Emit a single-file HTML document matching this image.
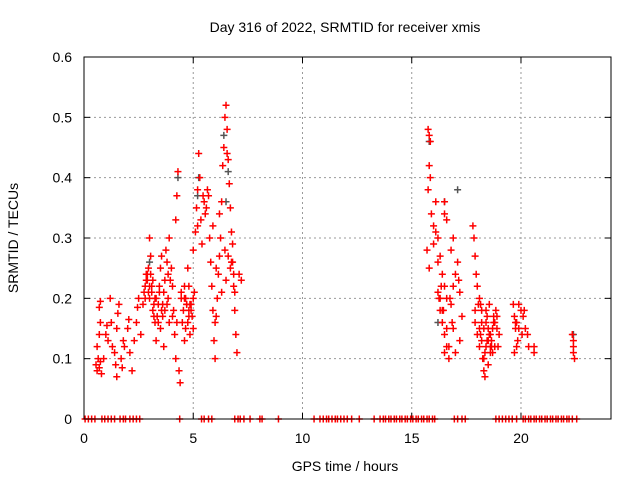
<!DOCTYPE html>
<html><head><meta charset="utf-8"><style>
body{margin:0;background:#fff;width:640px;height:480px;overflow:hidden}
text{font-family:"Liberation Sans",sans-serif;font-size:14px;fill:#000}
</style></head><body>
<svg id="chart" width="640" height="480" viewBox="0 0 640 480">
<text x="345" y="32" text-anchor="middle">Day 316 of 2022, SRMTID for receiver xmis</text>
<text x="345" y="471" text-anchor="middle">GPS time / hours</text>
<text transform="translate(18,238) rotate(-90)" text-anchor="middle">SRMTID / TECUs</text>
<g id="grid"></g>
<g id="ticks"></g>
<g id="greypts"></g>
<g id="redpts"></g>
<rect x="84" y="57" width="527" height="362" fill="none" stroke="#000" stroke-width="1"/>
</svg>
<script>
const xTicks=[0,5,10,15,20];
const yTicks=[0,0.1,0.2,0.3,0.4,0.5,0.6];
const yTickLabels=["0","0.1","0.2","0.3","0.4","0.5","0.6"];
const redHours=[0.55,0.6,0.65,0.7,0.75,0.6,0.7,0.75,0.7,0.75,0.8,0.9,1.0,1.05,1.1,1.2,1.25,1.3,1.4,1.45,1.5,1.5,1.55,1.6,1.7,1.75,1.8,1.85,2.0,2.05,2.1,2.2,2.3,2.4,2.45,2.5,2.6,2.7,2.75,2.8,2.85,2.9,2.95,3.0,3.0,3.05,3.1,3.15,3.2,3.25,3.3,3.3,3.4,3.45,3.5,3.5,3.55,3.6,3.65,3.7,3.75,3.8,3.85,3.9,3.9,4.0,4.05,4.1,4.15,4.2,4.2,4.25,4.3,4.35,4.4,4.45,4.5,4.6,4.6,4.7,4.75,4.8,4.85,4.9,5.0,5.0,5.05,5.1,5.15,5.2,5.25,5.3,5.35,5.4,5.5,5.6,5.7,5.75,5.8,5.85,5.9,5.95,6.0,6.0,6.1,6.15,6.2,6.25,6.3,6.35,6.4,6.45,6.5,6.55,6.6,6.65,6.7,6.75,6.8,6.85,6.9,6.95,7.0,6.5,6.6,6.7,6.8,7.1,7.2,6.9,2.9,3.0,3.1,3.6,3.7,4.6,4.7,4.8,4.9,5.0,
15.75,15.8,15.85,15.8,15.85,15.75,15.9,16.0,16.1,16.2,15.7,15.8,16.0,16.3,16.4,16.5,16.6,16.2,16.3,16.4,16.5,16.6,16.7,16.8,16.9,17.0,16.8,16.9,16.5,16.5,16.6,17.1,17.2,17.3,17.2,17.0,16.9,16.4,16.3,16.5,
17.8,17.85,17.9,17.95,18.0,18.05,18.1,18.15,18.2,18.25,18.3,18.35,18.4,18.45,18.5,18.55,18.6,18.65,18.7,18.75,18.8,18.85,18.9,18.95,19.0,18.2,18.4,18.6,18.3,18.5,17.9,18.1,
19.65,19.7,19.75,19.8,19.85,19.9,20.0,20.1,20.2,20.3,20.35,19.7,19.8,20.6,20.6,22.35,22.4,22.4,22.45,22.4,
2.8,2.85,2.95,3.05,3.2,3.35,3.45,3.55,3.65,3.8,3.95,4.05,4.25,4.45,4.55,4.65,4.75,4.85,4.95,4.65,4.8,3.25,3.4,3.15,3.85,5.55,5.65,5.9,6.05,6.3,6.45,6.55,6.75,6.85,6.2,6.05,5.45,5.2,
16.1,16.25,16.35,16.45,16.7,16.75,16.85,17.15,16.2,16.6,17.9,18.0,18.1,18.2,18.3,18.4,18.5,18.6,18.7,18.8,18.9,18.15,18.35,18.55,18.75,18.45,18.65,19.75,19.9,20.05,20.15];
const redValues=[0.09,0.08,0.1,0.085,0.095,0.12,0.14,0.16,0.185,0.195,0.075,0.1,0.14,0.155,0.13,0.2,0.16,0.12,0.11,0.09,0.07,0.15,0.175,0.19,0.1,0.085,0.13,0.12,0.15,0.165,0.11,0.08,0.13,0.16,0.185,0.2,0.14,0.19,0.21,0.22,0.24,0.23,0.25,0.2,0.3,0.27,0.22,0.18,0.17,0.16,0.13,0.2,0.19,0.21,0.15,0.25,0.27,0.17,0.12,0.23,0.28,0.26,0.2,0.16,0.3,0.25,0.22,0.18,0.14,0.1,0.33,0.37,0.41,0.08,0.06,0.2,0.16,0.13,0.22,0.19,0.25,0.17,0.14,0.18,0.15,0.28,0.21,0.31,0.35,0.38,0.44,0.4,0.33,0.29,0.36,0.35,0.37,0.3,0.26,0.22,0.18,0.13,0.1,0.16,0.2,0.24,0.27,0.3,0.36,0.42,0.45,0.5,0.52,0.48,0.43,0.39,0.35,0.31,0.26,0.22,0.18,0.14,0.11,0.23,0.27,0.25,0.29,0.24,0.23,0.21,0.24,0.22,0.21,0.19,0.18,0.2,0.19,0.18,0.19,0.2,
0.48,0.47,0.46,0.42,0.4,0.38,0.34,0.32,0.31,0.3,0.28,0.25,0.29,0.27,0.24,0.22,0.2,0.21,0.18,0.16,0.14,0.12,0.1,0.19,0.22,0.24,0.28,0.3,0.34,0.36,0.33,0.26,0.21,0.17,0.13,0.11,0.15,0.18,0.2,0.11,
0.32,0.3,0.27,0.24,0.22,0.19,0.15,0.14,0.13,0.1,0.08,0.07,0.12,0.17,0.15,0.19,0.14,0.13,0.11,0.17,0.16,0.18,0.15,0.12,0.14,0.18,0.16,0.12,0.1,0.09,0.16,0.2,
0.19,0.17,0.15,0.12,0.13,0.19,0.18,0.17,0.15,0.14,0.12,0.11,0.16,0.12,0.11,0.14,0.13,0.11,0.1,0.12,
0.2,0.23,0.21,0.24,0.19,0.17,0.22,0.18,0.21,0.19,0.23,0.17,0.16,0.21,0.18,0.2,0.16,0.19,0.17,0.15,0.22,0.2,0.16,0.23,0.24,0.34,0.38,0.32,0.17,0.21,0.28,0.44,0.26,0.24,0.34,0.25,0.37,0.32,
0.36,0.2,0.22,0.18,0.12,0.2,0.16,0.23,0.26,0.15,0.18,0.14,0.12,0.16,0.15,0.18,0.13,0.11,0.15,0.12,0.17,0.19,0.11,0.14,0.16,0.13,0.12,0.16,0.15,0.14,0.18];
const zeroHours=[0.05,0.2,0.35,0.5,0.82,0.95,1.1,1.25,1.4,1.65,1.8,1.9,2.1,2.25,2.4,2.55,4.38,5.38,5.5,5.7,5.85,6.9,7.05,7.15,7.32,7.6,8.05,8.15,8.9,10.53,10.8,10.95,11.1,11.2,11.35,11.5,11.6,11.75,11.9,12.05,12.25,12.6,13.28,13.55,13.7,13.8,13.95,14.05,14.2,14.3,14.45,14.55,14.7,14.8,14.95,15.05,15.2,15.3,15.45,15.55,15.7,15.8,15.95,16.05,16.95,17.1,17.3,17.45,18.85,19.0,19.15,19.3,19.45,19.6,19.8,20.1,20.2,20.35,20.45,20.6,20.7,20.85,20.95,21.1,21.2,21.35,21.45,21.6,21.7,21.85,21.95,22.1,22.2,22.35,22.55];
const greyHours=[5.2,5.25,6.4,6.5,6.6,15.8,16.5,17.1,22.4,3.0,4.3,16.2];
const greyValues=[0.37,0.4,0.47,0.36,0.41,0.46,0.36,0.38,0.14,0.26,0.4,0.16];

const X0=84,X1=611,Y0=419,Y1=57,XMAX=24.12,YMAX=0.6;
function sx(h){return X0+(h/XMAX)*(X1-X0);}
function sy(v){return Y0-(v/YMAX)*(Y0-Y1);}
const NS="http://www.w3.org/2000/svg";
function mk(tag,attrs,parent){const e=document.createElementNS(NS,tag);for(const k in attrs)e.setAttribute(k,attrs[k]);parent.appendChild(e);return e;}
const grid=document.getElementById('grid'),ticks=document.getElementById('ticks');
xTicks.forEach(t=>{const x=sx(t);
 if(t>0){const g=mk('line',{x1:x,x2:x,y1:Y1,y2:Y0,stroke:'#999','stroke-dasharray':'2,3'},grid);
 
 }
 mk('line',{x1:x,x2:x,y1:Y0,y2:Y0-6,stroke:'#000'},ticks);
 mk('line',{x1:x,x2:x,y1:Y1,y2:Y1+6,stroke:'#000'},ticks);
 const l=mk('text',{x:x,y:443,'text-anchor':'middle'},ticks);l.textContent=t;
 
 });
yTicks.forEach((t,i)=>{const y=sy(t);
 if(t>0&&t<0.6){const g=mk('line',{x1:X0,x2:X1,y1:y,y2:y,stroke:'#999','stroke-dasharray':'2,3'},grid);
 
 }
 mk('line',{x1:X0,x2:X0+6,y1:y,y2:y,stroke:'#000'},ticks);
 mk('line',{x1:X1,x2:X1-6,y1:y,y2:y,stroke:'#000'},ticks);
 const l=mk('text',{x:72,y:y+5,'text-anchor':'end'},ticks);l.textContent=yTickLabels[i];
 
 });
function plus(h,v,col,parent,name){const x=sx(h),y=sy(v);
 const p=mk('path',{d:`M${x-3.5} ${y}H${x+3.5}M${x} ${y-3.5}V${y+3.5}`,stroke:col,'stroke-width':1.5,fill:'none'},parent);
 
 }
const rp=document.getElementById('redpts'),gp=document.getElementById('greypts');
redHours.forEach((h,i)=>plus(h,redValues[i],'#f00',rp,'red-point'));
zeroHours.forEach(h=>plus(h,0,'#f00',rp,'zero-point'));
greyHours.forEach((h,i)=>plus(h,greyValues[i],'#555',gp,'grey-point'));
</script>
</body></html>
